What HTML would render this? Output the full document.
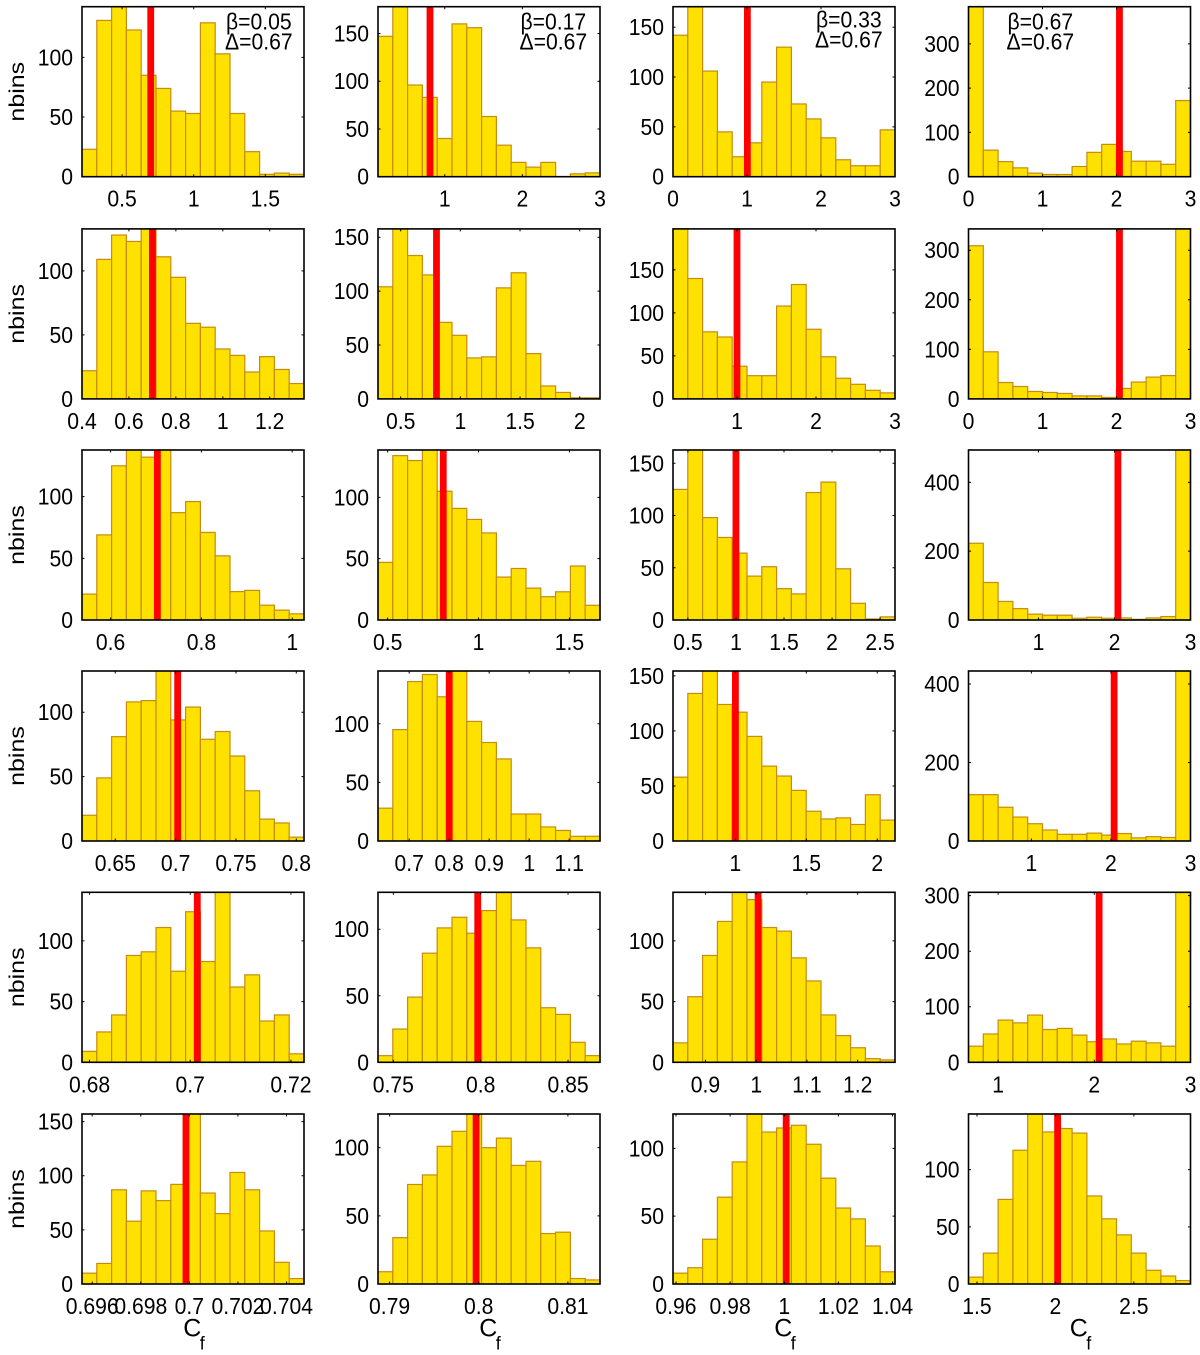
<!DOCTYPE html>
<html lang="en">
<head>
<meta charset="utf-8">
<title>Histograms of Cf for varying beta and delta</title>
<style>
  html, body { margin: 0; padding: 0; background: #fff; }
  svg { display: block; }
  text { font-family: "Liberation Sans", "DejaVu Sans", sans-serif; fill: #000; }
</style>
</head>
<body>
<svg id="chart" xmlns="http://www.w3.org/2000/svg" width="1200" height="1355" viewBox="0 0 1200 1355"></svg>
<script>
// Bin counts per panel, rows top to bottom, four panels per row (15 bins each)
const binCounts = [
  [[23,131,145,123,85,74,55,53,129,103,53,21,2,3,2],
   [147,180,96,83,40,160,156,63,33,15,10,15,0,3,4],
   [142,175,106,45,20,34,95,130,73,58,39,17,11,11,47],
   [400,60,34,20,8,5,5,23,55,73,57,35,35,28,172]],
  [[22,109,128,123,135,111,95,59,56,39,34,21,33,23,12],
   [104,160,133,115,71,59,38,39,103,117,42,12,6,1,1],
   [200,140,78,72,38,27,27,108,133,81,49,24,17,10,7],
   [309,95,33,25,15,13,11,6,6,3,21,34,44,47,360]],
  [[21,69,125,140,132,140,87,96,71,52,23,24,12,8,5],
   [47,134,130,140,105,91,82,71,35,42,26,19,23,44,12],
   [125,165,98,79,64,42,51,30,25,122,132,49,16,1,3],
   [223,109,54,33,17,14,14,5,8,5,6,2,6,10,500]],
  [[20,49,81,108,109,135,94,104,79,85,66,39,17,14,3],
   [28,95,136,142,123,148,102,84,70,23,23,12,9,4,4],
   [58,134,157,124,117,95,68,59,46,27,20,21,15,42,19],
   [118,118,86,61,44,28,17,17,20,15,19,8,11,9,440]],
  [[9,25,39,88,91,111,75,124,83,143,62,72,34,39,7],
   [5,25,49,82,101,109,97,114,130,107,86,41,36,15,5],
   [16,54,88,116,143,134,111,108,86,67,39,22,12,3,2],
   [29,51,76,71,85,59,61,49,37,42,33,38,35,29,310]],
  [[10,19,87,58,86,77,92,160,84,65,103,87,49,20,5],
   [9,34,73,80,101,112,127,100,107,87,90,37,38,4,3],
   [8,12,33,64,90,128,112,115,117,103,78,56,48,28,9],
   [6,27,74,117,151,133,136,132,77,57,43,27,12,7,3]]
];

// Axis limits per panel
const xLimits = [
  [[0.22,1.77],[0.14,3.0],[0,3],[0,3]],
  [[0.4,1.346],[0.31,2.17],[0.19,3],[0,3]],
  [[0.537,1.026],[0.447,1.668],[0.345,2.655],[0.08,3]],
  [[0.6224,0.8064],[0.622,1.177],[0.56,2.125],[0.21,3]],
  [[0.6785,0.7226],[0.7412,0.8683],[0.836,1.2736],[0.692,3]],
  [[0.69558,0.70472],[0.7887,0.8136],[0.9589,1.0409],[1.446,2.861]]
];
const yLimits = [
  [142.5,178,170.6,384],
  [132.8,157.7,197.7,343],
  [137.8,138.6,162.7,494],
  [132,145,154.4,433],
  [140,127.75,140,306],
  [157,124.7,125.3,148.7]
];

// Tick labels per panel (tick position is the parsed label)
const xTickLabels = [
  [['0.5','1','1.5'],['1','2','3'],['0','1','2','3'],['0','1','2','3']],
  [['0.4','0.6','0.8','1','1.2'],['0.5','1','1.5','2'],['1','2','3'],['0','1','2','3']],
  [['0.6','0.8','1'],['0.5','1','1.5'],['0.5','1','1.5','2','2.5'],['1','2','3']],
  [['0.65','0.7','0.75','0.8'],['0.7','0.8','0.9','1','1.1'],['1','1.5','2'],['1','2','3']],
  [['0.68','0.7','0.72'],['0.75','0.8','0.85'],['0.9','1','1.1','1.2'],['1','2','3']],
  [['0.696','0.698','0.7','0.702','0.704'],['0.79','0.8','0.81'],['0.96','0.98','1','1.02','1.04'],['1.5','2','2.5']]
];
const yTickLabels = [
  [['0','50','100'],['0','50','100','150'],['0','50','100','150'],['0','100','200','300']],
  [['0','50','100'],['0','50','100','150'],['0','50','100','150'],['0','100','200','300']],
  [['0','50','100'],['0','50','100'],['0','50','100','150'],['0','200','400']],
  [['0','50','100'],['0','50','100'],['0','50','100','150'],['0','200','400']],
  [['0','50','100'],['0','50','100'],['0','50','100'],['0','100','200','300']],
  [['0','50','100','150'],['0','50','100'],['0','50','100'],['0','50','100']]
];

// True Cf marker (red line) per panel
const markerValues = [
  [0.70,0.81,1.005,2.04],
  [0.70,0.80,1.0,2.04],
  [0.703,0.806,1.0,2.045],
  [0.7017,0.80,1.0,2.04],
  [0.7014,0.7983,1.0037,2.05],
  [0.69986,0.7997,1.0007,2.014]
];

// Annotations in the top row
const betaLabels = ['β=0.05','β=0.17','β=0.33','β=0.67'];
const deltaLabels = ['Δ=0.67','Δ=0.67','Δ=0.67','Δ=0.67'];
const yAxisTitle = 'nbins';

// Layout
const columnEdges = [82, 378, 673, 968.5];
const rowEdges = [6.7, 228.9, 450, 671, 892.3, 1114];
const plotWidth = 222;
const plotHeight = 170;
const annotationLefts = [226, 520.5, 816, 1007.5];
const annotationBaselines = [29.5, 29.5, 27.5, 29.5];

const NS = 'http://www.w3.org/2000/svg';
const svg = document.getElementById('chart');

function make(tag, attrs, parent) {
  const el = document.createElementNS(NS, tag);
  for (const k in attrs) el.setAttribute(k, attrs[k]);
  parent.appendChild(el);
  return el;
}

binCounts.forEach(function (rowCounts, r) {
  rowCounts.forEach(function (counts, c) {
    const left = columnEdges[c];
    const top = rowEdges[r];
    const bottom = top + plotHeight;
    const right = left + plotWidth;
    const xMin = xLimits[r][c][0];
    const xMax = xLimits[r][c][1];
    const yMax = yLimits[r][c];
    const xScale = function (v) { return left + (v - xMin) / (xMax - xMin) * plotWidth; };
    const yScale = function (v) { return bottom - v / yMax * plotHeight; };
    const tag = 'r' + (r + 1) + '-c' + (c + 1);

    const panel = make('g', {}, svg);
    
    

    const clip = make('clipPath', { id: 'clip-' + tag }, panel);
    make('rect', { x: left, y: top, width: plotWidth, height: plotHeight }, clip);

    const marks = make('g', { 'clip-path': 'url(#clip-' + tag + ')' }, panel);
    
    

    const binWidth = (xMax - xMin) / counts.length;
    counts.forEach(function (count, i) {
      const x0 = xScale(xMin + i * binWidth);
      const x1 = xScale(xMin + (i + 1) * binWidth);
      const y = yScale(count);
      const bar = make('rect', {
        x: x0, y: y, width: x1 - x0, height: Math.max(0, bottom - y),
        fill: '#ffe100', stroke: '#c48c10', 'stroke-width': 1.2
      }, marks);
      
      
    });

    const mx = xScale(markerValues[r][c]);
    const marker = make('line', {
      x1: mx, x2: mx, y1: yScale(0), y2: yScale(yMax),
      stroke: '#ff0000', 'stroke-width': 6.8
    }, marks);
    
    

    const frame = make('rect', {
      x: left, y: top, width: plotWidth, height: plotHeight,
      fill: 'none', stroke: '#000', 'stroke-width': 1.6
    }, panel);
    
    

    xTickLabels[r][c].forEach(function (label) {
      const x = xScale(parseFloat(label));
      const tick = make('path', {
        d: 'M' + x + ' ' + bottom + 'v-2.5M' + x + ' ' + top + 'v2.5',
        stroke: '#000', 'stroke-width': 1, fill: 'none'
      }, panel);
      
      
      const t = make('text', { transform: 'translate(' + x + ',' + (bottom + 30) + ') scale(0.92,1)', 'text-anchor': 'middle', 'font-size': 23 }, panel);
      t.textContent = label;
      
      
    });

    yTickLabels[r][c].forEach(function (label) {
      const y = yScale(parseFloat(label));
      const tick = make('path', {
        d: 'M' + left + ' ' + y + 'h2.5M' + right + ' ' + y + 'h-2.5',
        stroke: '#000', 'stroke-width': 1, fill: 'none'
      }, panel);
      
      
      const t = make('text', { transform: 'translate(' + (left - 9) + ',' + (y + 8) + ') scale(0.92,1)', 'text-anchor': 'end', 'font-size': 23 }, panel);
      t.textContent = label;
      
      
    });

    if (c === 0) {
      const cy = top + plotHeight / 2;
      const yt = make('text', {
        transform: 'translate(24,' + cy + ') rotate(-90) scale(1,0.85)',
        'text-anchor': 'middle', 'font-size': 25
      }, panel);
      yt.textContent = yAxisTitle;
      
      
    }

    if (r === binCounts.length - 1) {
      const xt = make('text', { x: left + plotWidth / 2 + 1, y: bottom + 52.5, 'text-anchor': 'middle', 'font-size': 25 }, panel);
      
      
      const main = make('tspan', {}, xt);
      main.textContent = 'C';
      const sub = make('tspan', { dy: 13, dx: -1.5, 'font-size': 18 }, xt);
      sub.textContent = 'f';
    }

    if (r === 0) {
      const b = make('text', { transform: 'translate(' + annotationLefts[c] + ',' + annotationBaselines[c] + ') scale(0.92,1)', 'font-size': 23 }, panel);
      b.textContent = betaLabels[c];
      
      
      const d = make('text', { transform: 'translate(' + (annotationLefts[c] - 1) + ',' + (annotationBaselines[c] + 20) + ') scale(0.92,1)', 'font-size': 23 }, panel);
      d.textContent = deltaLabels[c];
      
      
    }
  });
});
</script>
</body>
</html>
